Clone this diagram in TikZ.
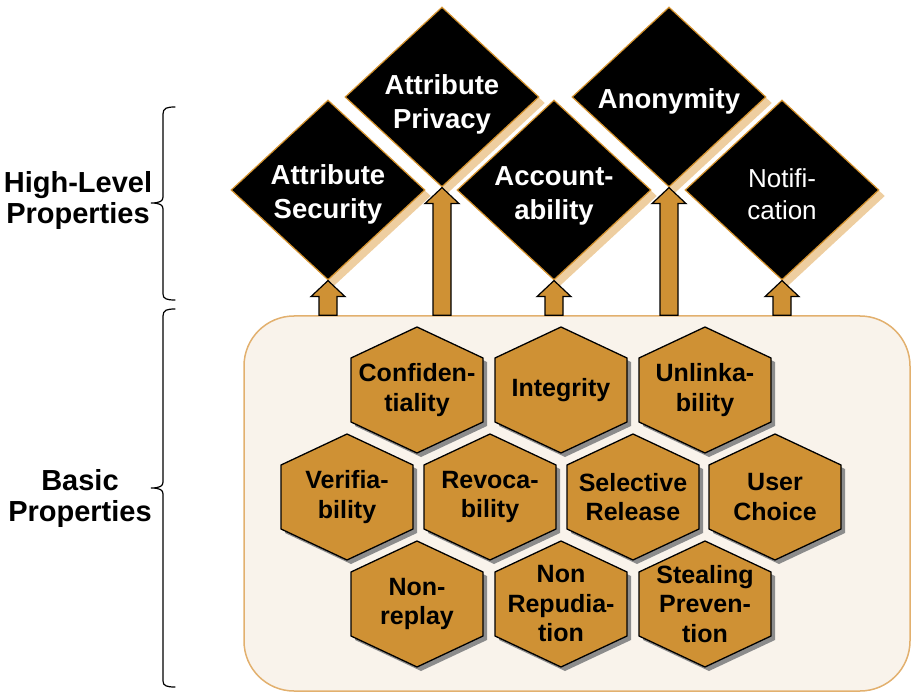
\documentclass[tikz,border=0pt]{standalone}
\usepackage{fontspec}
\setmainfont{Liberation Sans}
\usetikzlibrary{shapes.geometric,shadows,calc}

\definecolor{hexfill}{RGB}{207,145,52}
\definecolor{boxfill}{RGB}{249,243,235}
\definecolor{boxline}{RGB}{226,176,110}
\definecolor{diaedge}{RGB}{214,148,48}
\definecolor{diashade}{RGB}{238,206,160}
\definecolor{hexshadow}{RGB}{140,140,140}

\tikzset{
  diabox/.style={diamond, draw=diaedge, line width=1.2pt, fill=black,
    minimum width=194pt, minimum height=180pt, inner sep=0pt,
    drop shadow={shadow xshift=6pt, shadow yshift=-6pt, fill=diashade, opacity=1}},
  diatext/.style={text=white, font=\bfseries\fontsize{27.5}{34}\selectfont,
    align=center, inner sep=0pt},
  diasmall/.style={text=white, font=\fontsize{26}{32}\selectfont,
    align=center, inner sep=0pt},
  hexbody/.style={draw=black, line width=1.3pt, fill=hexfill, line join=miter},
  hexshade/.style={fill=hexshadow},
  hextext/.style={font=\bfseries\fontsize{25}{29.5}\selectfont,
    align=center, inner sep=0pt},
  sidetext/.style={font=\bfseries\fontsize{29}{31}\selectfont,
    align=center, inner sep=0pt},
  basebox/.style={draw=boxline, line width=1.5pt, fill=boxfill,
    rounded corners=50pt, minimum width=666pt, minimum height=375pt, inner sep=0pt},
  blockarrow/.style={draw=black, line width=1.2pt, fill=hexfill, line join=miter},
  bracepath/.style={draw=black, line width=1.2pt, line cap=round},
}

% hexagonal property cell: name, x, y, text
\newcommand\hexcell[4]{%
  \fill[hexshade, shift={(#2+4,#3+4)}]
    (0,-63) -- (66,-32) -- (66,32) -- (0,63) -- (-66,32) -- (-66,-32) -- cycle;
  \draw[hexbody, shift={(#2,#3)}]
    (0,-63) -- (66,-32) -- (66,32) -- (0,63) -- (-66,32) -- (-66,-32) -- cycle;
  \node[hextext] (#1) at (#2,#3) {#4};
}

% block arrow rising from the base box to a diamond tip
\newcommand\liftarrow[2]{%
  \draw[blockarrow] let \p1=(#1), \p2=(#2) in
    (\x2-9pt,\y1) -- (\x2-9pt,\y2-16pt) -- (\x2-17pt,\y2-16pt) -- (\x2,\y2)
    -- (\x2+17pt,\y2-16pt) -- (\x2+9pt,\y2-16pt) -- (\x2+9pt,\y1) -- cycle;
}

\begin{document}
\begin{tikzpicture}[x=1pt,y=-1pt]
  \useasboundingbox (0,0) rectangle (911,695);

  % side labels and braces
  \node[sidetext] (hl) at (78,201) {High-Level\\Properties};
  \node[sidetext] (bp) at (80,499) {Basic\\Properties};

  \draw[bracepath] (175,107) .. controls (167,107) and (163,108) .. (163,114)
    -- (163,197) .. controls (163,201) and (160,203) .. (151,203)
    .. controls (160,203) and (163,205) .. (163,209)
    -- (163,294) .. controls (163,299) and (167,300) .. (175,300);
  \draw[bracepath] (175,309) .. controls (167,309) and (163,310) .. (163,316)
    -- (163,482) .. controls (163,486) and (160,488) .. (151,488)
    .. controls (160,488) and (163,490) .. (163,494)
    -- (163,681) .. controls (163,686) and (167,687) .. (175,687);

  % base container
  \node[basebox] (box) at (577,503.5) {};

  % high-level properties
  \node[diabox] (as) at (328,190) {};
  \node[diabox] (ap) at (442,97) {};
  \node[diabox] (ac) at (554,190) {};
  \node[diabox] (an) at (669,97) {};
  \node[diabox] (no) at (782,190) {};

  \node[diatext] (ast) at (328,194) {Attribute\\Security};
  \node[diatext] (apt) at (442,104) {Attribute\\Privacy};
  \node[diatext] (act) at (554,196) {Account-\\ability};
  \node[diatext] (ant) at (669,101) {Anonymity};
  \node[diasmall] (not) at (782,194) {Notifi-\\cation};

  % arrows from the basic properties up to the high-level ones
  \liftarrow{box.north -| as.south}{as.south}
  \liftarrow{box.north -| ap.south}{ap.south}
  \liftarrow{box.north -| ac.south}{ac.south}
  \liftarrow{box.north -| an.south}{an.south}
  \liftarrow{box.north -| no.south}{no.south}

  % basic properties
  \hexcell{conf}{417}{390}{Confiden-\\tiality}
  \hexcell{integ}{561}{390}{Integrity}
  \hexcell{unlink}{705}{390}{Unlinka-\\bility}

  \hexcell{verif}{347}{497}{Verifia-\\bility}
  \hexcell{revoc}{490}{497}{Revoca-\\bility}
  \hexcell{selrel}{633}{497}{Selective\\Release}
  \hexcell{uchoice}{775}{497}{User\\Choice}

  \hexcell{nonrep}{417}{604}{Non-\\replay}
  \hexcell{nonrepud}{561}{604}{Non\\Repudia-\\tion}
  \hexcell{steal}{705}{604}{Stealing\\Preven-\\tion}
\end{tikzpicture}
\end{document}
